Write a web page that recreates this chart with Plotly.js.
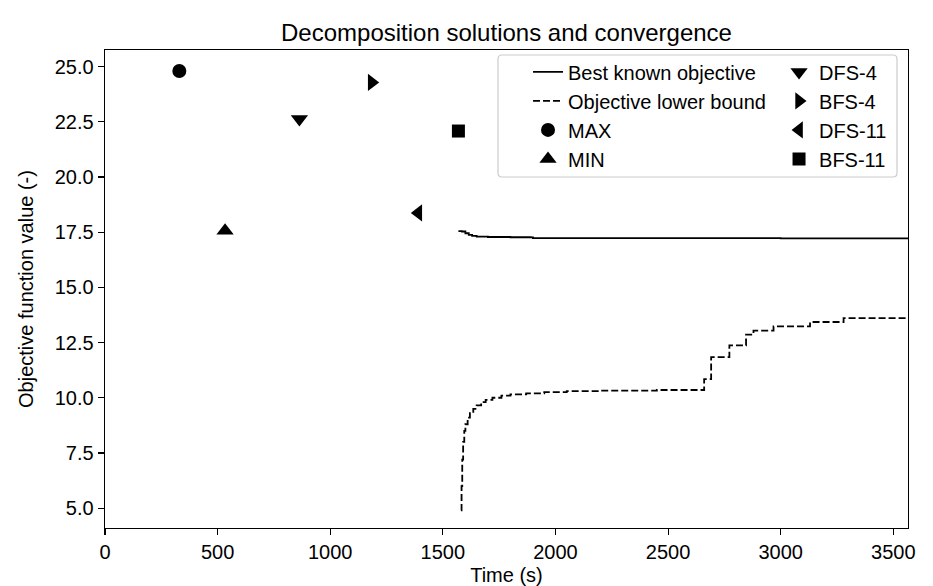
<!DOCTYPE html>
<html>
<head>
<meta charset="utf-8">
<script src="https://cdn.plot.ly/plotly-3.0.1.min.js"></script>
<style>html,body{margin:0;padding:0;background:#fff;}#chart{width:933px;height:586px;}</style>
</head>
<body>
<div id="chart"></div>
<script>
// Best known objective (step line)
const bestTime = [1569, 1585, 1600, 1615, 1630, 1650, 1700, 1800, 1890, 1900, 2500, 3000, 3565];
const bestValue = [17.55, 17.53, 17.45, 17.38, 17.33, 17.30, 17.28, 17.27, 17.26, 17.23, 17.23, 17.22, 17.22];

// Objective lower bound (step line)
const lbTime = [1580, 1583, 1586, 1590, 1595, 1600, 1610, 1620, 1635, 1650, 1670, 1690, 1720, 1760, 1800, 1870, 1950, 2050, 2200, 2450, 2660, 2691, 2772, 2846, 2879, 2968, 3130, 3279, 3565];
const lbValue = [4.9, 6.0, 7.2, 8.0, 8.5, 8.8, 9.1, 9.3, 9.5, 9.65, 9.8, 9.9, 10.0, 10.1, 10.15, 10.2, 10.25, 10.3, 10.32, 10.35, 10.84, 11.84, 12.37, 12.86, 13.04, 13.23, 13.43, 13.61, 13.61];

// Decomposition solutions
const solNames = ["MAX", "MIN", "DFS-4", "BFS-4", "DFS-11", "BFS-11"];
const solTime = [330, 533, 863, 1184, 1391, 1569];
const solValue = [24.80, 17.56, 22.63, 24.28, 18.37, 22.08];
const solSymbols = ["circle", "triangle-up", "triangle-down", "triangle-right", "triangle-left", "square"];
const solSizes = [14, 15, 15, 15, 15, 13];
const solLegend = ["legend", "legend", "legend2", "legend2", "legend2", "legend2"];

const xTicks = [0, 500, 1000, 1500, 2000, 2500, 3000, 3500];
const yTicks = [5.0, 7.5, 10.0, 12.5, 15.0, 17.5, 20.0, 22.5, 25.0];

const font = "Liberation Sans, Arial, Helvetica, sans-serif";

function sol(i) {
  return {
    x: [solTime[i]], y: [solValue[i]], name: solNames[i], type: "scatter", mode: "markers",
    legend: solLegend[i],
    marker: {symbol: solSymbols[i], size: solSizes[i], color: "black"}
  };
}
const lineBest = {x: bestTime, y: bestValue, name: "Best known objective", type: "scatter", mode: "lines",
  legend: "legend", line: {color: "black", width: 1.8, shape: "hv"}};
const lineLb = {x: lbTime, y: lbValue, name: "Objective lower bound", type: "scatter", mode: "lines",
  legend: "legend", line: {color: "black", width: 1.8, shape: "hv", dash: "7px,3px"}};

const traces = [lineBest, lineLb, sol(0), sol(1), sol(2), sol(3), sol(4), sol(5)];

// legend frame (rounded rectangle in paper coords)
const bx0 = 0.4894, bx1 = 0.9863, by0 = 0.7343, by1 = 0.9895, rx = 0.005, ry = 0.0084;
const framePath = `M ${bx0+rx} ${by0} L ${bx1-rx} ${by0} Q ${bx1} ${by0} ${bx1} ${by0+ry} L ${bx1} ${by1-ry} Q ${bx1} ${by1} ${bx1-rx} ${by1} L ${bx0+rx} ${by1} Q ${bx0} ${by1} ${bx0} ${by1-ry} L ${bx0} ${by0+ry} Q ${bx0} ${by0} ${bx0+rx} ${by0} Z`;

const legendCommon = {
  orientation: "v", yanchor: "top", xanchor: "left",
  bgcolor: "rgba(0,0,0,0)", borderwidth: 0,
  font: {family: font, size: 20, color: "black"}, tracegroupgap: 0
};

const layout = {
  width: 933, height: 586,
  margin: {l: 105, r: 25, t: 50, b: 58},
  paper_bgcolor: "white", plot_bgcolor: "white",
  font: {family: font, size: 20, color: "black"},
  title: {text: "Decomposition solutions and convergence", font: {family: font, size: 24, color: "black"},
    xref: "paper", x: 0.5, xanchor: "center", y: 0.944, yanchor: "middle"},
  xaxis: {
    range: [0, 3565], tickvals: xTicks, ticktext: xTicks.map(String),
    showgrid: false, zeroline: false, showline: true, linecolor: "black", linewidth: 1.4, mirror: true,
    ticks: "outside", ticklen: 6, tickwidth: 1.2, tickcolor: "black", tickfont: {size: 20},
    title: {text: "Time (s)", font: {size: 20}, standoff: 6}
  },
  yaxis: {
    range: [4.1, 25.75], tickvals: yTicks, ticktext: yTicks.map(v => v.toFixed(1)),
    showgrid: false, zeroline: false, showline: true, linecolor: "black", linewidth: 1.4, mirror: true,
    ticks: "outside", ticklen: 6, tickwidth: 1.2, tickcolor: "black", tickfont: {size: 20},
    title: {text: "Objective function value (-)", font: {size: 20}, standoff: 15}
  },
  shapes: [{type: "path", xref: "paper", yref: "paper", path: framePath,
    line: {color: "#cccccc", width: 1.2}, fillcolor: "rgba(255,255,255,0.8)", layer: "above"}],
  legend: Object.assign({}, legendCommon, {x: 0.5268, y: 0.995}),
  legend2: Object.assign({}, legendCommon, {x: 0.8394, y: 0.995}),
  showlegend: true
};

Plotly.newPlot("chart", traces, layout, {displayModeBar: false, staticPlot: true});
</script>
</body>
</html>
